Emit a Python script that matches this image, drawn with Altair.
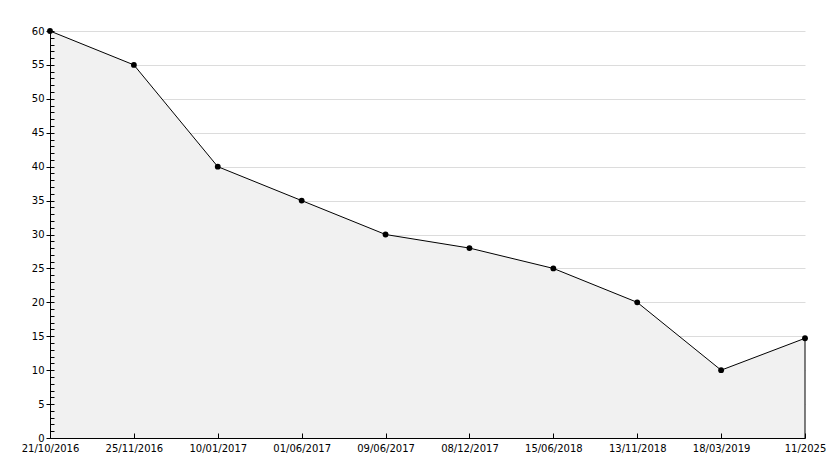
import altair as alt
import pandas as pd

dates = ["21/10/2016", "25/11/2016", "10/01/2017", "01/06/2017", "09/06/2017",
         "08/12/2017", "15/06/2018", "13/11/2018", "18/03/2019", "11/2025"]
values = [60, 55, 40, 35, 30, 28, 25, 20, 10, 14.7]
major_ticks = list(range(0, 61, 5))
minor_ticks = list(range(0, 61, 1))

df = pd.DataFrame({"label": dates, "value": values, "zero": [0] * len(dates)})
last = df.tail(1)

W, H = 755, 407
FONT = "DejaVu Sans"

xscale = alt.Scale(type="point", padding=0)
yscale = alt.Scale(domain=[0, 60], nice=False, zero=True)

x_bottom = alt.X("label:O", sort=dates, scale=xscale,
                 axis=alt.Axis(orient="bottom", title=None, labelAngle=0, domainColor="#000000",
                               ticks=False, labelPadding=5, labelFont=FONT, labelFontSize=10,
                               labelColor="#000000", grid=False, zindex=1))
x_top = alt.X("label:O", sort=dates, scale=xscale,
              axis=alt.Axis(orient="top", offset=-H, title=None, labels=False, domain=False,
                            ticks=True, tickSize=5, tickColor="#000000", grid=False, zindex=1))
x_none = alt.X("label:O", sort=dates, scale=xscale, axis=None)

# left axis: labels, outer major ticks and grid, drawn behind the marks
y_left = alt.Y("value:Q", scale=yscale,
               axis=alt.Axis(orient="left", title=None, values=major_ticks, grid=True,
                             gridColor="#dcdcdc", domain=False, tickColor="#000000",
                             tickSize=4, labelPadding=2, labelFont=FONT, labelFontSize=10,
                             labelColor="#000000", zindex=0))
# inner axis line with minor ticks, drawn above the area
y_right = alt.Y("value:Q", scale=yscale,
                axis=alt.Axis(orient="right", offset=-W, title=None, values=minor_ticks,
                              labels=False, domain=True, domainColor="#000000", grid=False,
                              tickSize=4, tickColor="#000000", zindex=1))
y_none = alt.Y("value:Q", scale=yscale, axis=None)

area = alt.Chart(df).mark_area(color="#f1f1f1", opacity=1).encode(x=x_bottom, y=y_left)
line = alt.Chart(df).mark_line(color="#000000", strokeWidth=1).encode(x=x_top, y=y_right)
pts = alt.Chart(df).mark_point(filled=True, color="#000000", size=34, opacity=1,
                               shape="circle").encode(x=x_none, y=y_none)
rule = alt.Chart(last).mark_rule(color="#000000", strokeWidth=1).encode(
    x=x_none, y=y_none, y2="zero:Q")

chart = alt.layer(area, line, rule, pts).resolve_axis(x="independent", y="independent").properties(
    width=W, height=H,
    background="#ffffff",
    autosize=alt.AutoSizeParams(type="none"),
    padding={"left": 42, "top": 23, "right": 21, "bottom": 22},
).configure_view(stroke=None)

chart.save("out.html", embed_options={"renderer": "svg", "actions": False})
